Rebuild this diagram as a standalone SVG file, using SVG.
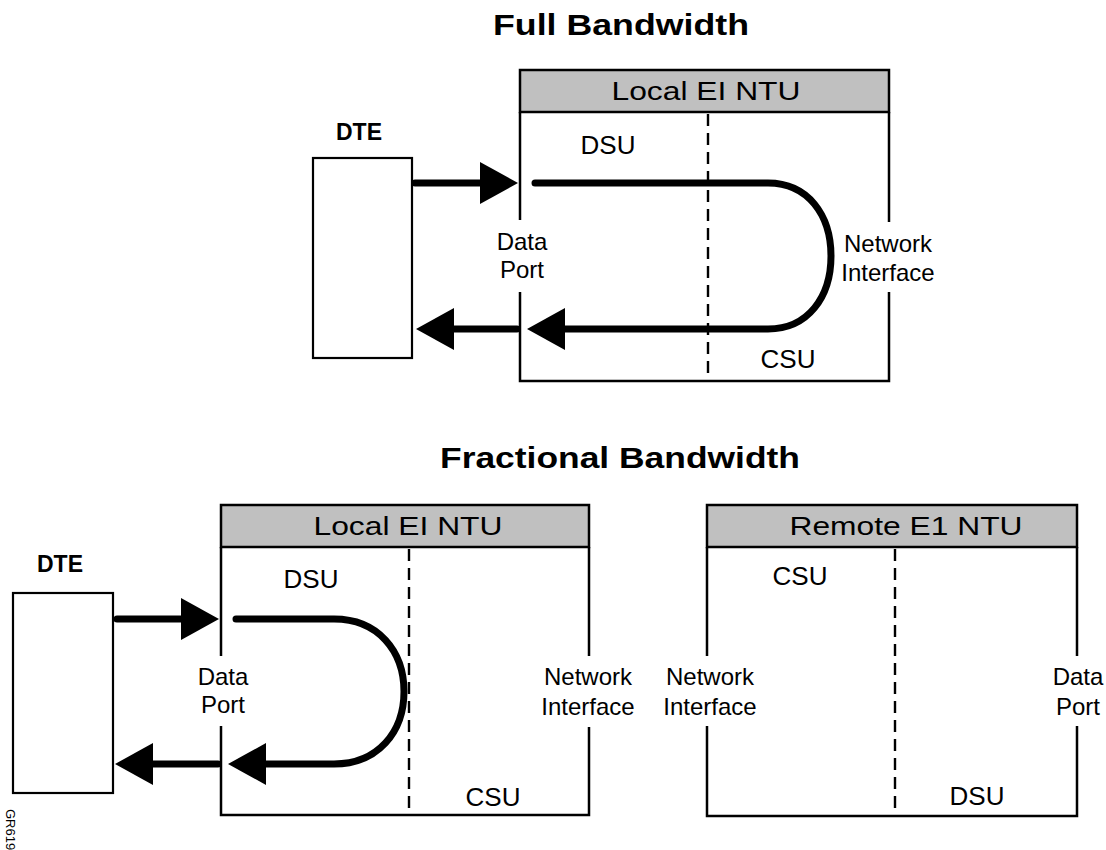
<svg xmlns="http://www.w3.org/2000/svg" width="1106" height="850" viewBox="0 0 1106 850">
<style>
.title{font-family:"Liberation Sans",Arial,sans-serif;font-weight:bold;font-size:29px;text-anchor:middle;fill:#000}
.dte{font-family:"Liberation Sans",Arial,sans-serif;font-weight:bold;font-size:23px;text-anchor:middle;fill:#000}
.hdr{font-family:"Liberation Sans",Arial,sans-serif;font-size:25px;text-anchor:middle;fill:#000}
.lbl{font-family:"Liberation Sans",Arial,sans-serif;font-size:24px;text-anchor:middle;fill:#000}
.unit{font-family:"Liberation Sans",Arial,sans-serif;font-size:26px;text-anchor:middle;fill:#000}
.tag{font-family:"Liberation Sans",Arial,sans-serif;font-size:13px;fill:#000}
.head{fill:#c0c0c0;stroke:#000;stroke-width:2.5}
.edge{fill:none;stroke:#000;stroke-width:2.5}
.dash{fill:none;stroke:#000;stroke-width:2.4;stroke-dasharray:12,7}
.box{fill:#fff;stroke:#000;stroke-width:2.2}
.flow{fill:none;stroke:#000;stroke-width:7;stroke-linecap:round;marker-end:url(#ah)}
</style>
<defs>
<marker id="ah" markerUnits="userSpaceOnUse" markerWidth="50" markerHeight="50" refX="0" refY="0" orient="auto" overflow="visible">
<path d="M0,-21 L38,0 L0,21 z" fill="#000"/>
</marker>
</defs>

<text class="title" x="621" y="35" textLength="256" lengthAdjust="spacingAndGlyphs">Full Bandwidth</text>
<text class="title" x="620" y="468" textLength="360" lengthAdjust="spacingAndGlyphs">Fractional Bandwidth</text>

<g id="dte-top">
<rect class="box" x="313" y="158" width="99" height="200"/>
<text class="dte" x="359" y="140">DTE</text>
</g>

<g id="local-top">
<rect class="head" x="520" y="70" width="369" height="42"/>
<text class="hdr" x="706" y="100" textLength="189" lengthAdjust="spacingAndGlyphs">Local EI NTU</text>
<path class="edge" d="M520,112 V220 M520,292 V381 H889 V292 M889,222 V112"/>
<line class="dash" x1="708" y1="114" x2="708" y2="380"/>
<text class="unit" x="608" y="154">DSU</text>
<text class="unit" x="788" y="368">CSU</text>
<text class="lbl" x="522" y="250">Data</text>
<text class="lbl" x="522" y="278">Port</text>
<text class="lbl" x="888" y="252">Network</text>
<text class="lbl" x="888" y="281">Interface</text>
</g>

<g id="dte-bottom">
<rect class="box" x="13" y="593" width="100" height="200"/>
<text class="dte" x="60" y="572">DTE</text>
</g>

<g id="local-bottom">
<rect class="head" x="221" y="505" width="368" height="42"/>
<text class="hdr" x="408" y="535" textLength="189" lengthAdjust="spacingAndGlyphs">Local EI NTU</text>
<path class="edge" d="M221,547 V656 M221,726 V815 H589 V727 M589,656 V547"/>
<line class="dash" x1="409" y1="549" x2="409" y2="815"/>
<text class="unit" x="311" y="588">DSU</text>
<text class="unit" x="493" y="806">CSU</text>
<text class="lbl" x="223" y="685">Data</text>
<text class="lbl" x="223" y="713">Port</text>
<text class="lbl" x="588" y="685">Network</text>
<text class="lbl" x="588" y="715">Interface</text>
</g>

<g id="remote-bottom">
<rect class="head" x="707" y="505" width="370" height="42"/>
<text class="hdr" x="906" y="535" textLength="233" lengthAdjust="spacingAndGlyphs">Remote E1 NTU</text>
<path class="edge" d="M707,547 V656 M707,726 V816 H1077 V726 M1077,656 V547"/>
<line class="dash" x1="895" y1="549" x2="895" y2="816"/>
<text class="unit" x="800" y="585">CSU</text>
<text class="unit" x="977" y="805">DSU</text>
<text class="lbl" x="710" y="685">Network</text>
<text class="lbl" x="710" y="715">Interface</text>
<text class="lbl" x="1078" y="685">Data</text>
<text class="lbl" x="1078" y="715">Port</text>
</g>

<g id="connectors">
<path class="flow" d="M415,183 H480"/>
<path class="flow" d="M535,183 H768 C808,183 831,215 831,256 C831,297 808,329 768,329 H565"/>
<path class="flow" d="M517,329 H454"/>
<path class="flow" d="M117,619 H181"/>
<path class="flow" d="M236,619 H334 C378,619 404,651 404,691.5 C404,732 378,764 334,764 H266"/>
<path class="flow" d="M218,764 H153"/>
</g>

<text class="tag" transform="translate(6,809) rotate(90)">GR619</text>
</svg>
